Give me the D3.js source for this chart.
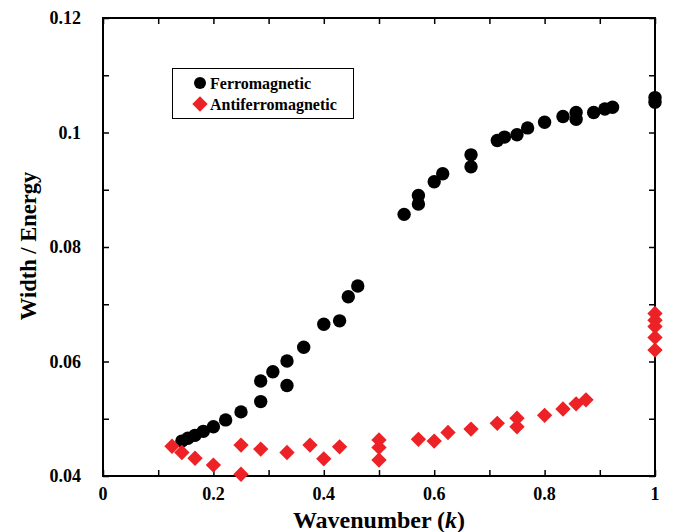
<!DOCTYPE html>
<html>
<head>
<meta charset="utf-8">
<script src="https://cdn.jsdelivr.net/npm/d3@7/dist/d3.min.js"></script>
<style>
  html, body { margin: 0; padding: 0; background: #fff; }
  svg { display: block; }
  text { font-family: "Liberation Serif", "Times New Roman", serif; font-weight: bold; }
</style>
</head>
<body>
<svg id="chart" width="673" height="532"></svg>
<script>
// Ferromagnetic spin-wave widths
const ferroK = [0.1429, 0.1538, 0.1667, 0.1818, 0.2, 0.2222, 0.25, 0.2857, 0.2857, 0.3077,
  0.3333, 0.3333, 0.3636, 0.4, 0.4286, 0.4444, 0.4615, 0.5455, 0.5714, 0.5714, 0.6, 0.6154,
  0.6667, 0.6667, 0.7143, 0.7273, 0.75, 0.7692, 0.8, 0.8333, 0.8571, 0.8571, 0.8889, 0.9091,
  0.9231, 1.0, 1.0];
const ferroW = [0.0461, 0.0466, 0.0471, 0.0478, 0.0486, 0.0498, 0.0512, 0.0530, 0.0566, 0.0582,
  0.0558, 0.0601, 0.0625, 0.0665, 0.0671, 0.0713, 0.0732, 0.0857, 0.0875, 0.0890, 0.0914, 0.0928,
  0.0940, 0.0961, 0.0986, 0.0992, 0.0996, 0.1008, 0.1018, 0.1028, 0.1023, 0.1035, 0.1035, 0.1041,
  0.1044, 0.1053, 0.1061];

// Antiferromagnetic spin-wave widths
const antiK = [0.125, 0.1429, 0.1667, 0.2, 0.25, 0.25, 0.2857, 0.3333, 0.375, 0.4, 0.4286,
  0.5, 0.5, 0.5, 0.5714, 0.6, 0.625, 0.6667, 0.7143, 0.75, 0.75, 0.8, 0.8333, 0.8571, 0.875,
  1.0, 1.0, 1.0, 1.0, 1.0];
const antiW = [0.0452, 0.0441, 0.0431, 0.0419, 0.0454, 0.0403, 0.0447, 0.0441, 0.0454, 0.0430, 0.0451,
  0.0463, 0.0450, 0.0428, 0.0464, 0.0461, 0.0476, 0.0482, 0.0492, 0.0501, 0.0486, 0.0506, 0.0517,
  0.0526, 0.0533, 0.0684, 0.0672, 0.0661, 0.0642, 0.0620];

const xTickLabels = [0, 0.2, 0.4, 0.6, 0.8, 1];
const yTickLabels = [0.04, 0.06, 0.08, 0.1, 0.12];
const seriesNames = ["Ferromagnetic", "Antiferromagnetic"];

const svg = d3.select("#chart");
const plotL = 103, plotR = 655, plotT = 18, plotB = 476;
const red = "#ec2227";

const x = d3.scaleLinear().domain([0, 1]).range([plotL, plotR]);
const y = d3.scaleLinear().domain([0.04, 0.12]).range([plotB, plotT]);

const fmt = d => String(+d.toFixed(2));

// Frame with inward ticks on all four sides
const minorX = d3.range(0, 1.0001, 0.1);
const minorY = d3.range(0.04, 0.12001, 0.01);

svg.append("g").attr("transform", `translate(0,${plotB})`)
  .call(d3.axisBottom(x).tickValues(minorX).tickSize(-6).tickFormat(""))
  .call(g => g.select(".domain").remove());
svg.append("g").attr("transform", `translate(0,${plotT})`)
  .call(d3.axisTop(x).tickValues(minorX).tickSize(-6).tickFormat(""))
  .call(g => g.select(".domain").remove());
svg.append("g").attr("transform", `translate(${plotL},0)`)
  .call(d3.axisLeft(y).tickValues(minorY).tickSize(-6).tickFormat(""))
  .call(g => g.select(".domain").remove());
svg.append("g").attr("transform", `translate(${plotR},0)`)
  .call(d3.axisRight(y).tickValues(minorY).tickSize(-6).tickFormat(""))
  .call(g => g.select(".domain").remove());
svg.selectAll(".tick line").attr("stroke", "#000").attr("stroke-width", 1.5);

svg.append("rect")
  .attr("x", plotL).attr("y", plotT)
  .attr("width", plotR - plotL).attr("height", plotB - plotT)
  .attr("fill", "none").attr("stroke", "#000").attr("stroke-width", 2);

// Tick labels
svg.append("g").selectAll("text").data(xTickLabels).join("text")
  .attr("x", d => x(d)).attr("y", plotB + 24)
  .attr("text-anchor", "middle").attr("font-size", 18)
  .text(d => fmt(d));
svg.append("g").selectAll("text").data(yTickLabels).join("text")
  .attr("x", plotL - 22).attr("y", d => y(d) + 6)
  .attr("text-anchor", "end").attr("font-size", 18)
  .text(d => fmt(d));

// Axis titles
const xt = svg.append("text")
  .attr("x", (plotL + plotR) / 2).attr("y", 528)
  .attr("text-anchor", "middle").attr("font-size", 24);
xt.append("tspan").text("Wavenumber (");
xt.append("tspan").attr("font-style", "italic").text("k");
xt.append("tspan").text(")");

svg.append("text")
  .attr("transform", `translate(36,${(plotT + plotB) / 2 - 1}) rotate(-90)`)
  .attr("text-anchor", "middle").attr("font-size", 22.5)
  .text("Width / Energy");

// Data points
const diamond = d3.symbol().type(d3.symbolDiamond2).size(150);

svg.append("g").selectAll("circle").data(d3.range(ferroK.length)).join("circle")
  .attr("cx", i => x(ferroK[i])).attr("cy", i => y(ferroW[i]))
  .attr("r", 6.7).attr("fill", "#000");

svg.append("g").selectAll("path").data(d3.range(antiK.length)).join("path")
  .attr("d", diamond)
  .attr("transform", i => `translate(${x(antiK[i])},${y(antiW[i])})`)
  .attr("fill", red);

// Legend
const lg = svg.append("g");
lg.append("rect").attr("x", 172.5).attr("y", 68.5).attr("width", 181).attr("height", 50)
  .attr("fill", "#fff").attr("stroke", "#000").attr("stroke-width", 1);
lg.append("circle").attr("cx", 200).attr("cy", 83).attr("r", 6).attr("fill", "#000");
lg.append("path").attr("d", diamond).attr("transform", "translate(200,104)").attr("fill", red);
lg.append("text").attr("x", 210).attr("y", 89).attr("font-size", 16).text(seriesNames[0]);
lg.append("text").attr("x", 210).attr("y", 110).attr("font-size", 16).text(seriesNames[1]);
</script>
</body>
</html>
